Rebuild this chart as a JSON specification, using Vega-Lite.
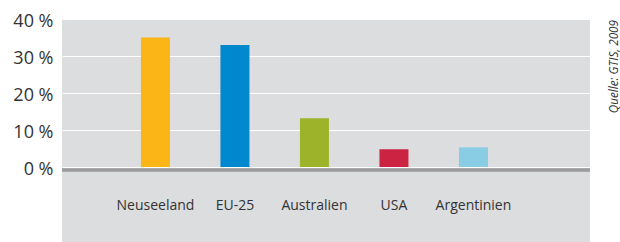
{
  "$schema": "https://vega.github.io/schema/vega-lite/v6.json",
  "width": 528,
  "height": 223,
  "autosize": {"type": "none"},
  "padding": {"left": 62, "top": 19, "right": 30, "bottom": 0},
  "background": "white",
  "config": {
    "view": {"fill": "#dcdddf", "stroke": null},
    "font": "Open Sans"
  },
  "title": {
    "text": "Quelle: GTIS, 2009",
    "orient": "right",
    "angle": -90,
    "anchor": "start",
    "align": "right",
    "baseline": "top",
    "offset": 6,
    "dx": -8,
    "font": "Open Sans",
    "fontStyle": "italic",
    "fontWeight": "normal",
    "fontSize": 11.7,
    "color": "#333333"
  },
  "data": {
    "values": [
      {"land": "Neuseeland", "anteil": 35},
      {"land": "EU-25", "anteil": 33},
      {"land": "Australien", "anteil": 13.2},
      {"land": "USA", "anteil": 4.8},
      {"land": "Argentinien", "anteil": 5.3}
    ]
  },
  "layer": [
    {
      "mark": {"type": "bar", "y2Offset": 1.5},
      "encoding": {
        "x": {
          "field": "land",
          "type": "nominal",
          "scale": {
            "domain": ["Neuseeland", "EU-25", "Australien", "USA", "Argentinien", ""],
            "paddingInner": 0.635,
            "paddingOuter": 0.638,
            "align": 0.778
          },
          "axis": {
            "title": null,
            "domain": false,
            "ticks": false,
            "grid": false,
            "offset": -42,
            "labelPadding": 9,
            "labelBaseline": "alphabetic",
            "labelFontSize": 14,
            "labelColor": "#333333",
            "labelAngle": 0,
            "labelFont": "Open Sans"
          }
        },
        "y": {
          "field": "anteil",
          "type": "quantitative",
          "scale": {"domain": [-20.27, 40], "nice": false, "zero": false},
          "axis": {
            "values": [0, 10, 20, 30, 40],
            "title": null,
            "domain": false,
            "ticks": false,
            "labelPadding": 9,
            "labelFontSize": 18,
            "labelColor": "#333333",
            "labelOffset": 2,
            "labelFont": "Open Sans",
            "labelExpr": "datum.value + ' %'",
            "gridColor": "#ffffff",
            "gridWidth": 1.2,
            "gridOpacity": 1
          }
        },
        "color": {
          "field": "land",
          "type": "nominal",
          "scale": {
            "domain": ["Neuseeland", "EU-25", "Australien", "USA", "Argentinien"],
            "range": ["#fbb516", "#0088cf", "#9db42a", "#cc2342", "#89cde4"]
          },
          "legend": null
        }
      }
    },
    {
      "mark": {"type": "rule", "color": "#9b9b9d", "strokeWidth": 2.7, "yOffset": 3},
      "encoding": {"y": {"datum": 0}}
    }
  ]
}
